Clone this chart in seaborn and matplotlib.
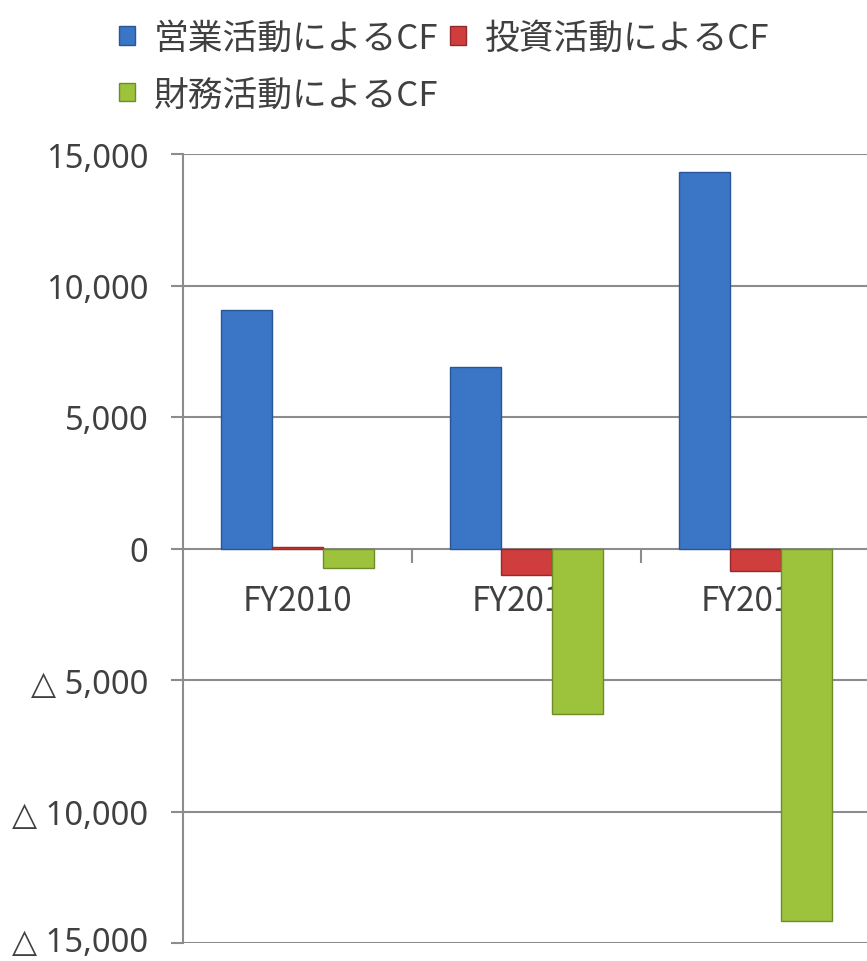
import matplotlib
matplotlib.use("Agg")
import matplotlib.pyplot as plt
import matplotlib.transforms as mtransforms
import seaborn as sns
import pandas as pd
from matplotlib.patches import Patch
from matplotlib.ticker import FixedLocator, FuncFormatter

categories = ["FY2010", "FY2011", "FY2012"]
series_names = ["営業活動によるCF", "投資活動によるCF", "財務活動によるCF"]
operating_cf = [9050, 6900, 14300]
investing_cf = [60, -990, -840]
financing_cf = [-760, -6300, -14150]
y_ticks = [15000, 10000, 5000, 0, -5000, -10000, -15000]

colors = ["#3b76c6", "#cf3d3d", "#9dc33d"]
edge_colors = ["#2a5596", "#962a2a", "#6f8c2a"]

rows = []
for name, vals in zip(series_names, [operating_cf, investing_cf, financing_cf]):
    for c, v in zip(categories, vals):
        rows.append({"cat": c, "series": name, "value": v})
df = pd.DataFrame(rows)

sns.set_theme(style="white")
plt.rcParams["font.family"] = ["Noto Sans CJK JP", "DejaVu Sans"]
text_color = "#404040"
grid_color = "#8c8c8c"

fig = plt.figure(figsize=(8.67, 9.62), dpi=100)
ax = fig.add_axes([183 / 867, 1 - 944 / 962, (870 - 183) / 867, (944 - 155) / 962])

sns.barplot(data=df, x="cat", y="value", hue="series", order=categories,
            hue_order=series_names, palette=colors, width=0.667,
            ax=ax, legend=False, saturation=1)

for container, ec in zip(ax.containers, edge_colors):
    for p in container:
        p.set_edgecolor(ec)
        p.set_linewidth(1.0)
        p.set_zorder(3)

ax.set_xlim(-0.5, 2.5)
ax.set_ylim(-15000, 15000)
ax.set_xlabel("")
ax.set_ylabel("")

for t in y_ticks:
    if t != 0:
        ax.axhline(t, color=grid_color, lw=1.5, zorder=0.5)

def fmt(v, pos):
    if v < 0:
        return "△ {:,}".format(int(-v))
    return "{:,}".format(int(v))

ax.yaxis.set_major_locator(FixedLocator(y_ticks))
ax.yaxis.set_major_formatter(FuncFormatter(fmt))
ax.tick_params(axis="y", direction="out", length=9, width=1.5, color=grid_color,
               labelsize=23.5, labelcolor=text_color, pad=16, left=True)
for lab in ax.get_yticklabels():
    lab.set_fontfamily(["Noto Sans", "DejaVu Sans"])

# keep the lowest tick label inside the canvas
bottom_tick = ax.yaxis.get_major_ticks()[-1]
bottom_tick.label1.set_transform(
    bottom_tick.label1.get_transform()
    + mtransforms.ScaledTranslation(0, 5 / 100, fig.dpi_scale_trans))

for s in ["top", "right"]:
    ax.spines[s].set_visible(False)
ax.spines["left"].set_color(grid_color)
ax.spines["left"].set_linewidth(1.5)
ax.spines["bottom"].set_position(("data", 0))
ax.spines["bottom"].set_color(grid_color)
ax.spines["bottom"].set_linewidth(1.5)
ax.set_axisbelow(True)

ax.set_xticks([0, 1, 2])
ax.set_xticklabels(categories)
ax.set_xticks([0.5, 1.5], minor=True)
ax.tick_params(axis="x", which="major", length=0, labelsize=24,
               labelcolor=text_color, pad=25)
ax.tick_params(axis="x", which="minor", direction="out", length=10, width=1.5,
               color=grid_color, bottom=True)
ax.xaxis.set_zorder(0.6)

handles = [Patch(facecolor=c, edgecolor=e) for c, e in zip(colors, edge_colors)]
order = [0, 2, 1]
fig.legend([handles[i] for i in order], [series_names[i] for i in order],
           loc="upper left", bbox_to_anchor=(105 / 867, 1 - 8 / 962),
           ncol=2, frameon=False, fontsize=25, handlelength=0.45, handleheight=0.45,
           handletextpad=0.55, columnspacing=0.35, labelspacing=0.62,
           labelcolor=text_color, borderaxespad=0)

fig.savefig("out.png", dpi=100)
